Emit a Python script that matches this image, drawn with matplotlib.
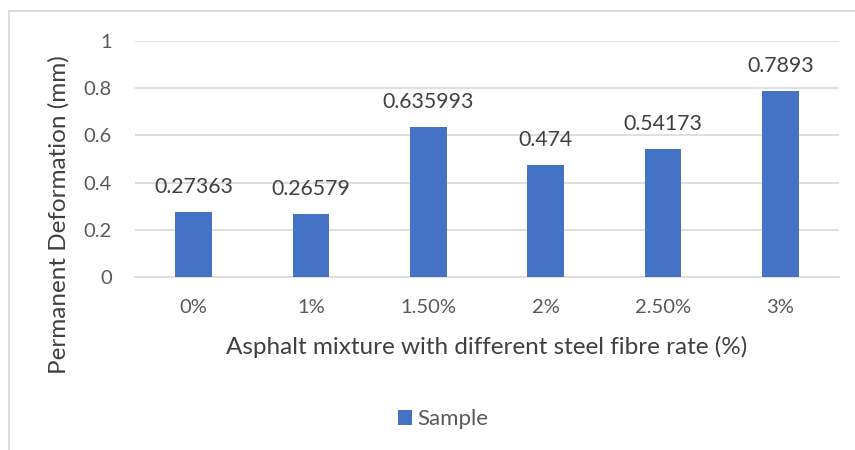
import matplotlib
matplotlib.use("Agg")
import matplotlib.pyplot as plt
from matplotlib.lines import Line2D
from matplotlib.patches import Patch

categories = ["0%", "1%", "1.50%", "2%", "2.50%", "3%"]
values = [0.27363, 0.26579, 0.635993, 0.474, 0.54173, 0.7893]
labels = ["0.27363", "0.26579", "0.635993", "0.474", "0.54173", "0.7893"]
yticks = [0, 0.2, 0.4, 0.6, 0.8, 1]
ytick_labels = ["0", "0.2", "0.4", "0.6", "0.8", "1"]

W, H = 855, 450
plt.rcParams['font.family'] = ['Lato', 'DejaVu Sans']
fig = plt.figure(figsize=(W / 100, H / 100), dpi=100)
fig.patch.set_facecolor("white")

# chart border (top and left visible)
fig.add_artist(Line2D([9 / W, 1], [1 - 11 / H, 1 - 11 / H], color="#D9D9D9", lw=1.3))
fig.add_artist(Line2D([9 / W, 9 / W], [0, 1 - 11 / H], color="#D9D9D9", lw=1.3))

left, right, top, bottom = 135, 839, 41, 277
ax = fig.add_axes([left / W, 1 - bottom / H, (right - left) / W, (bottom - top) / H])
x = list(range(len(categories)))
bars = ax.bar(x, values, width=0.31, color="#4472C4", zorder=3)
ax.set_xlim(-0.5, len(categories) - 0.5)
ax.set_ylim(0, 1)
ax.set_yticks(yticks)
ax.set_yticklabels(ytick_labels)
ax.set_xticks(x)
ax.set_xticklabels(categories)
ax.tick_params(axis="both", length=0, labelsize=14.5, labelcolor="#595959")
ax.tick_params(axis="y", pad=16.5)
ax.tick_params(axis="x", pad=16)
ax.grid(axis="y", color="#D9D9D9", lw=1.2, zorder=0)
for s in ["top", "right", "left"]:
    ax.spines[s].set_visible(False)
ax.spines["bottom"].set_color("#D9D9D9")
ax.spines["bottom"].set_linewidth(1.2)

for xi, v, lab in zip(x, values, labels):
    ax.annotate(lab, (xi, v), xytext=(0, 25), textcoords="offset pixels",
                ha="center", va="center", fontsize=15.3, color="#404040")

fig.text(487 / W, 1 - 347 / H, "Asphalt mixture with different steel fibre rate (%)",
         ha="center", va="center", fontsize=17.5, color="#404040")
fig.text(59 / W, 1 - 215 / H, "Permanent Deformation (mm)", rotation=90,
         ha="center", va="center", fontsize=17.5, color="#404040")

handle = Patch(facecolor="#4472C4", edgecolor="none")
leg = fig.legend([handle], ["Sample"], loc="center", bbox_to_anchor=(443 / W, 1 - 419 / H),
                 frameon=False, fontsize=16, handlelength=0.65, handleheight=0.65,
                 handletextpad=0.25, labelcolor="#595959", borderpad=0, borderaxespad=0)

fig.savefig("out.png", dpi=100, facecolor="white")
